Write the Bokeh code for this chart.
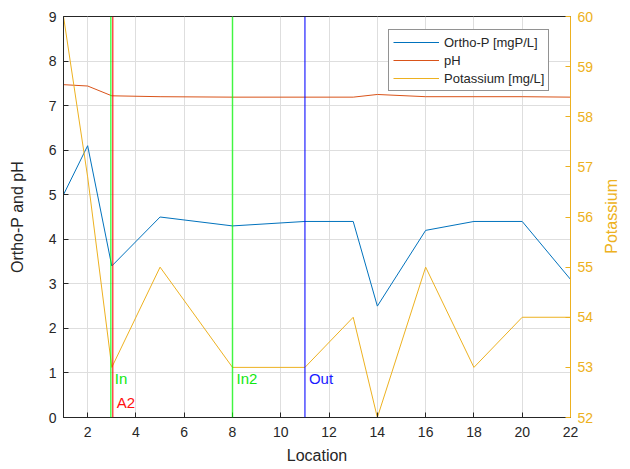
from bokeh.plotting import figure
from bokeh.layouts import row
from bokeh.models import Range1d, LinearAxis, FixedTicker, Legend, LegendItem, ColumnDataSource, Span, Div
from bokeh.core.properties import value
from bokeh.embed import file_html
from bokeh.resources import INLINE

# ---- data ----
location = [1, 2, 3, 5, 8, 11, 13, 14, 16, 18, 20, 22]
ortho_p = [5.0, 6.1, 3.4, 4.5, 4.3, 4.4, 4.4, 2.5, 4.2, 4.4, 4.4, 3.1]
ph = [7.47, 7.44, 7.22, 7.20, 7.19, 7.19, 7.19, 7.25, 7.20, 7.20, 7.20, 7.19]
potassium = [60, 56.8, 53, 55, 53, 53, 54, 52, 55, 53, 54, 54]

marker_names = ["In", "A2", "In2", "Out"]
marker_x = [2.96, 3.04, 8, 11]
marker_line_colors = ["#00ff00", "#ff0000", "#00ff00", "#0000ff"]
marker_text_colors = ["#10e810", "#ff1010", "#10e810", "#1a1aff"]
marker_label_y = [0.87, 0.33, 0.87, 0.87]

x_ticks = [2, 4, 6, 8, 10, 12, 14, 16, 18, 20, 22]
left_ticks = [0, 1, 2, 3, 4, 5, 6, 7, 8, 9]
right_ticks = [52, 53, 54, 55, 56, 57, 58, 59, 60]

FONT = "Liberation Sans"
DARK = "#262626"
BLUE = "#0072BD"
ORANGE = "#D95319"
YELLOW = "#EDB120"

p = figure(width=598, height=469, output_backend="svg", toolbar_location=None,
           x_range=Range1d(1, 22), y_range=Range1d(0, 9),
           min_border_left=63, min_border_right=28, min_border_top=16, min_border_bottom=52)
p.extra_y_ranges = {"pot": Range1d(52, 60)}

p.background_fill_color = "white"
p.border_fill_color = "white"
p.outline_line_color = DARK
p.outline_line_width = 1

# grid
p.xgrid.ticker = FixedTicker(ticks=x_ticks)
p.ygrid.ticker = FixedTicker(ticks=left_ticks)
for g in (p.xgrid, p.ygrid):
    g.grid_line_color = "#dedede"
    g.grid_line_width = 1

# bottom axis
xa = p.xaxis[0]
xa.ticker = FixedTicker(ticks=x_ticks)
xa.axis_label = "Location"
# left axis
ya = p.yaxis[0]
ya.ticker = FixedTicker(ticks=left_ticks)
ya.axis_label = "Ortho-P and pH"

for ax in (xa, ya):
    ax.axis_line_color = DARK
    ax.major_tick_line_color = DARK
    ax.major_tick_in = 5
    ax.major_tick_out = 0
    ax.minor_tick_line_color = None
    ax.major_label_text_color = DARK
    ax.major_label_text_font = FONT
    ax.major_label_text_font_size = "14px"
    ax.axis_label_text_font = FONT
    ax.axis_label_text_font_size = "16px"
    ax.axis_label_text_font_style = "normal"
    ax.axis_label_text_color = DARK

xa.major_label_standoff = 9
xa.axis_label_standoff = 7
ya.major_label_standoff = 7
ya.axis_label_standoff = 20

# right axis (ticks + tick labels)
ra = LinearAxis(y_range_name="pot", ticker=FixedTicker(ticks=right_ticks))
ra.axis_line_color = YELLOW
ra.major_tick_line_color = YELLOW
ra.major_tick_in = 5
ra.major_tick_out = 0
ra.minor_tick_line_color = None
ra.major_label_text_color = YELLOW
ra.major_label_text_font = FONT
ra.major_label_text_font_size = "14px"
ra.major_label_standoff = 7
p.add_layout(ra, "right")

# vertical marker lines
for xv, c in zip(marker_x, marker_line_colors):
    p.add_layout(Span(location=xv, dimension="height", line_color=c, line_alpha=0.7, line_width=1.5))

src = ColumnDataSource(dict(x=location, op=ortho_p, ph=ph, k=potassium))
r1 = p.line("x", "op", source=src, line_color=BLUE, line_width=1)
r2 = p.line("x", "ph", source=src, line_color=ORANGE, line_width=1)
r3 = p.line("x", "k", source=src, line_color=YELLOW, line_width=1, y_range_name="pot")

tsrc = ColumnDataSource(dict(x=marker_x, y=marker_label_y, t=marker_names, c=marker_text_colors))
p.text(x="x", y="y", text="t", source=tsrc, text_color="c", x_offset=4,
       text_baseline="middle", text_align="left",
       text_font=value(FONT), text_font_size="15px")

legend = Legend(items=[LegendItem(label="Ortho-P [mgP/L]", renderers=[r1]),
                       LegendItem(label="pH", renderers=[r2]),
                       LegendItem(label="Potassium [mg/L]", renderers=[r3])],
                location=(325, 326))
legend.label_text_font = FONT
legend.label_text_font_size = "13px"
legend.label_text_color = DARK
legend.glyph_width = 46
legend.glyph_height = 16
legend.label_height = 16
legend.spacing = 2
legend.padding = 4
legend.margin = 0
legend.label_standoff = 5
legend.border_line_color = DARK
legend.border_line_width = 1
legend.background_fill_color = "white"
legend.background_fill_alpha = 1
p.add_layout(legend, "center")

# right axis title, reading bottom-to-top, centred on the plot area
pot_title = Div(
    text=('<div style="width:28px; height:433px; display:flex; align-items:center; '
          'justify-content:center;">'
          '<span style="writing-mode:vertical-rl; transform:rotate(180deg); white-space:nowrap; '
          "font-family:'Liberation Sans'; font-size:16px; color:%s;\">Potassium</span></div>") % YELLOW,
    width=32, height=469, margin=0)

layout = row(p, pot_title, spacing=0)

open("out.html", "w").write(file_html(layout, INLINE))
